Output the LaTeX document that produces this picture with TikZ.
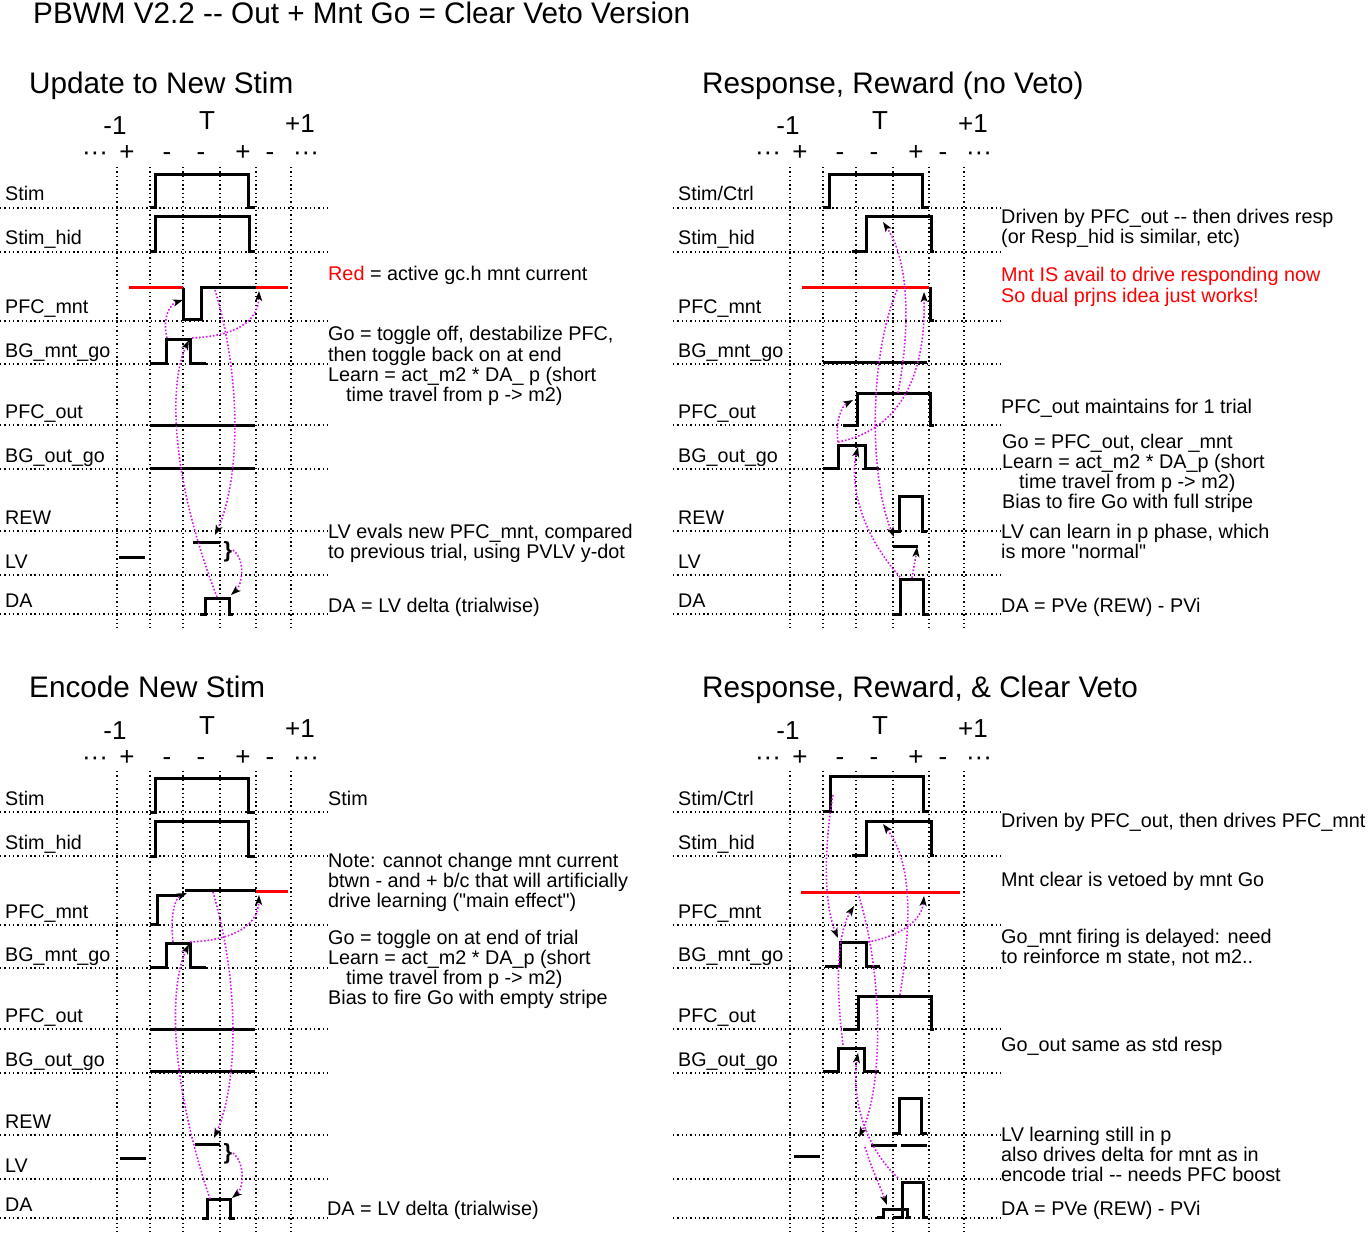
\documentclass[tikz,border=0pt]{standalone}
\usepackage{fontspec}
\setmainfont{Liberation Sans}[Ligatures=TeXOff]
\usetikzlibrary{arrows.meta}
\definecolor{mag}{RGB}{215,20,235}
\newcommand\myfs[1]{\fontsize{#1}{#1}\selectfont}
\tikzset{
  gridln/.style={line width=1.4pt, dash pattern=on 1.4pt off 2.9pt, black},
  sig/.style={line width=3pt, black, line join=miter},
  redsig/.style={line width=3pt, red},
  conn/.style={draw=mag, line width=1.6pt, dash pattern=on 1.6pt off 1.9pt, -{Stealth[length=10pt,width=7pt,inset=2.5pt,black]}},
  lab/.style={anchor=base west, inner sep=0, font=\myfs{19.7}},
  rt/.style={anchor=base west, inner sep=0, font=\myfs{19.8}},
  hdr/.style={anchor=base, inner sep=0, font=\myfs{26}},
  ttl/.style={anchor=base west, inner sep=0, font=\myfs{29.7}},
  brc/.style={inner sep=0, font=\bfseries\myfs{22}}
}
\newcommand\panelgrid[2]{%
  \foreach \yy in {208,252,321,364,425,469,531,575,614}{\draw[gridln] (0,\yy) -- (327,\yy);}
  \foreach \xx in {117,150,183,220,256,291}{\draw[gridln] (\xx,167) -- (\xx,628);}
  \node[hdr] (#1-hm) at (115,135) {-1};
  \node[hdr] (#1-ht) at (207,130) {T};
  \node[hdr] (#1-hp) at (300,133) {+1};
  \node[hdr] (#1-d1) at (95,161) {···};
  \node[hdr] (#1-d2) at (127,161) {+};
  \node[hdr] (#1-d3) at (167,161) {-};
  \node[hdr] (#1-d4) at (201,161) {-};
  \node[hdr] (#1-d5) at (243,161) {+};
  \node[hdr] (#1-d6) at (270,161) {-};
  \node[hdr] (#1-d7) at (306,161) {···};
  \node[lab] (#1-l1) at (5,201) {#2};
  \node[lab] (#1-l2) at (5,245) {Stim\_hid};
  \node[lab] (#1-l3) at (5,314) {PFC\_mnt};
  \node[lab] (#1-l4) at (5,357) {BG\_mnt\_go};
  \node[lab] (#1-l5) at (5,418) {PFC\_out};
  \node[lab] (#1-l6) at (5,462) {BG\_out\_go};
}
\newcommand\lowlabels[1]{%
  \node[lab] (#1-l7) at (5,524) {REW};
  \node[lab] (#1-l8) at (5,568) {LV};
  \node[lab] (#1-l9) at (5,607) {DA};
}
\begin{document}
\begin{tikzpicture}[x=1pt,y=-1pt]
\fill[white] (0,0) rectangle (1368,1233);
\path[use as bounding box] (0,0) rectangle (1368,1233);

% titles
\node[ttl] (title) at (33,24) {PBWM V2.2 -{}- Out + Mnt Go = Clear Veto Version};
\node[ttl] (t1) at (29,94) {Update to New Stim};
\node[ttl] (t2) at (702,94) {Response, Reward (no Veto)};
\node[ttl] (t3) at (29,697) {Encode New Stim};
\node[ttl] (t4) at (702,697) {Response, Reward, \& Clear Veto};

% grids
\begin{scope}\panelgrid{pa}{Stim}\lowlabels{pa}\end{scope}
\begin{scope}[shift={(673,0)}]\panelgrid{pb}{Stim/Ctrl}\lowlabels{pb}\end{scope}
\begin{scope}[shift={(0,604)}]\panelgrid{pc}{Stim}\lowlabels{pc}\end{scope}
\begin{scope}[shift={(673,604)}]\panelgrid{pd}{Stim/Ctrl}\end{scope}

% ---------- Panel 1 signals
\draw[sig] (150,208) -- (155,208) -- (155,175) -- (248,175) -- (248,208) -- (255,208);
\draw[sig] (150,252) -- (155,252) -- (155,217) -- (249,217) -- (249,252) -- (255,252);
\draw[redsig] (129,288) -- (183,288);
\draw[sig] (183,288) -- (183,320) -- (201,320) -- (201,288) -- (256,288);
\draw[redsig] (256,288) -- (288,288);
\draw[sig] (150,363) -- (166,363) -- (166,339) -- (190,339) -- (190,363) -- (206,363);
\draw[sig] (150,425) -- (255,425);
\draw[sig] (150,468) -- (255,468);
\draw[sig] (119,557) -- (145,557);
\draw[sig] (193,542) -- (220,542);
\node[brc] (pa-br) at (228,552) {\}};
\draw[sig] (200,614) -- (205,614) -- (205,598) -- (229,598) -- (229,614) -- (233,614);

\coordinate (a1s) at (167,338); \coordinate (a1e) at (183,300);
\coordinate (a2s) at (192,338); \coordinate (a2e) at (259,291);
\coordinate (a3s) at (217,597); \coordinate (a3e) at (189,340);
\coordinate (a4s) at (215,290); \coordinate (a4e) at (215,535);
\coordinate (a5s) at (233,550); \coordinate (a5e) at (231,595);
\draw[conn] (a1s) .. controls (162,318) and (170,304) .. (a1e);
\draw[conn] (a2s) .. controls (235,336) and (258,322) .. (a2e);
\draw[conn] (a3s) .. controls (168,470) and (170,380) .. (a3e);
\draw[conn] (a4s) .. controls (242,380) and (240,480) .. (a4e);
\draw[conn] (a5s) .. controls (246,560) and (242,585) .. (a5e);

\node[rt] (ra1) at (328,281) {{\color{red}Red} = active gc.h mnt current};
\node[rt] (ra2) at (328,341) {Go = toggle off, destabilize PFC,};
\node[rt] (ra3) at (328,361) {then toggle back on at end};
\node[rt] (ra4) at (328,381) {Learn = act\_m2 * DA\_ p (short};
\node[rt] (ra5) at (346,401) {time travel from p -> m2)};
\node[rt] (ra6) at (328,538) {LV evals new PFC\_mnt, compared};
\node[rt] (ra7) at (328,558) {to previous trial, using PVLV y-dot};
\node[rt] (ra8) at (328,612) {DA = LV delta (trialwise)};

% ---------- Panel 2 signals
\draw[sig] (823,208) -- (829,208) -- (829,175) -- (922,175) -- (922,208) -- (929,208);
\draw[sig] (852,252) -- (866,252) -- (866,217) -- (931,217) -- (931,252) -- (934,252);
\draw[redsig] (802,288) -- (929,288);
\draw[sig] (930,287) -- (930,321) -- (934,321);
\draw[sig] (823,362) -- (927,362);
\draw[sig] (843,425) -- (857,425) -- (857,393) -- (930,393) -- (930,425) -- (934,425);
\draw[sig] (823,468) -- (838,468) -- (838,445) -- (865,445) -- (865,468) -- (879,468);
\draw[sig] (893,531) -- (899,531) -- (899,496) -- (922,496) -- (922,531) -- (927,531);
\draw[sig] (893,546) -- (918,546);
\draw[sig] (893,614) -- (900,614) -- (900,579) -- (923,579) -- (923,614) -- (929,614);

\coordinate (d1s) at (838,442); \coordinate (d1e) at (853,400);
\coordinate (d2s) at (838,442); \coordinate (d2e) at (924,292);
\coordinate (d3s) at (898,393); \coordinate (d3e) at (883,222);
\coordinate (d4s) at (897,290); \coordinate (d4e) at (894,537);
\coordinate (d5s) at (900,577); \coordinate (d5e) at (858,447);
\coordinate (d6s) at (912,578); \coordinate (d6e) at (917,547);
\draw[conn] (d1s) .. controls (835,420) and (842,406) .. (d1e);
\draw[conn] (d2s) .. controls (890,432) and (926,390) .. (d2e);
\draw[conn] (d3s) .. controls (910,330) and (910,262) .. (d3e);
\draw[conn] (d4s) .. controls (868,360) and (870,480) .. (d4e);
\draw[conn] (d5s) .. controls (858,530) and (850,480) .. (d5e);
\draw[conn] (d6s) .. controls (914,565) and (916,556) .. (d6e);

\node[rt] (rb1) at (1001,224) {Driven by PFC\_out -{}- then drives resp};
\node[rt] (rb2) at (1001,244) {(or Resp\_hid is similar, etc)};
\node[rt,text=red] (rb3) at (1001,282) {Mnt IS avail to drive responding now};
\node[rt,text=red] (rb4) at (1001,302) {So dual prjns idea just works!};
\node[rt] (rb5) at (1001,413) {PFC\_out maintains for 1 trial};
\node[rt] (rb6) at (1002,448) {Go = PFC\_out, clear \_mnt};
\node[rt] (rb7) at (1002,468) {Learn = act\_m2 * DA\_p (short};
\node[rt] (rb8) at (1019,488) {time travel from p -> m2)};
\node[rt] (rb9) at (1002,508) {Bias to fire Go with full stripe};
\node[rt] (rb10) at (1001,538) {LV can learn in p phase, which};
\node[rt] (rb11) at (1001,558) {is more "normal"};
\node[rt] (rb12) at (1001,612) {DA = PVe (REW) - PVi};

% ---------- Panel 3 signals
\draw[sig] (150,812) -- (155,812) -- (155,778) -- (248,778) -- (248,812) -- (255,812);
\draw[sig] (150,856) -- (155,856) -- (155,821) -- (248,821) -- (248,856) -- (255,856);
\draw[sig] (150,924) -- (157,924) -- (157,895) -- (183,895);
\draw[sig] (185,890) -- (256,890);
\draw[redsig] (256,891) -- (288,891);
\draw[sig] (150,967) -- (166,967) -- (166,943) -- (190,943) -- (190,967) -- (206,967);
\draw[sig] (150,1029) -- (255,1029);
\draw[sig] (150,1071) -- (255,1071);
\draw[sig] (120,1158) -- (146,1158);
\draw[sig] (195,1144) -- (220,1144);
\node[brc] (pc-br) at (228,1154) {\}};
\draw[sig] (202,1218) -- (207,1218) -- (207,1199) -- (230,1199) -- (230,1218) -- (235,1218);

\coordinate (b1s) at (173,942); \coordinate (b1e) at (187,893);
\coordinate (b2s) at (190,942); \coordinate (b2e) at (259,895);
\coordinate (b3s) at (210,1199); \coordinate (b3e) at (189,944);
\coordinate (b4s) at (213,892); \coordinate (b4e) at (214,1138);
\coordinate (b5s) at (233,1153); \coordinate (b5e) at (232,1198);
\draw[conn] (b1s) .. controls (170,915) and (175,898) .. (b1e);
\draw[conn] (b2s) .. controls (235,940) and (258,925) .. (b2e);
\draw[conn] (b3s) .. controls (168,1074) and (170,984) .. (b3e);
\draw[conn] (b4s) .. controls (240,984) and (238,1084) .. (b4e);
\draw[conn] (b5s) .. controls (246,1164) and (243,1189) .. (b5e);

\node[rt] (rc1) at (328,805) {Stim};
\node[rt] (rc2) at (328,867) {Note: cannot change mnt current};
\node[rt] (rc3) at (328,887) {btwn - and + b/c that will artificially};
\node[rt] (rc4) at (328,907) {drive learning ("main effect")};
\node[rt] (rc5) at (328,944) {Go = toggle on at end of trial};
\node[rt] (rc6) at (328,964) {Learn = act\_m2 * DA\_p (short};
\node[rt] (rc7) at (346,984) {time travel from p -> m2)};
\node[rt] (rc8) at (328,1004) {Bias to fire Go with empty stripe};
\node[rt] (rc9) at (327,1215) {DA = LV delta (trialwise)};

% ---------- Panel 4 signals
\draw[sig] (823,811) -- (830,811) -- (830,776) -- (923,776) -- (923,811) -- (929,811);
\draw[sig] (852,855) -- (866,855) -- (866,821) -- (931,821) -- (931,855) -- (934,855);
\draw[redsig] (801,892) -- (960,892);
\draw[sig] (825,966) -- (840,966) -- (840,942) -- (866,942) -- (866,966) -- (880,966);
\draw[sig] (843,1029) -- (858,1029) -- (858,996) -- (931,996) -- (931,1029) -- (934,1029);
\draw[sig] (823,1071) -- (838,1071) -- (838,1048) -- (864,1048) -- (864,1071) -- (879,1071);
\draw[sig] (893,1133) -- (899,1133) -- (899,1098) -- (921,1098) -- (921,1133) -- (927,1133);
\draw[sig] (794,1156) -- (820,1156);
\draw[sig] (871,1145) -- (897,1145);
\draw[sig] (901,1145) -- (927,1145);
\draw[sig] (877,1217) -- (883,1217) -- (883,1209) -- (907,1209) -- (907,1217) -- (911,1217);
\draw[sig] (893,1217) -- (902,1217) -- (902,1182) -- (923,1182) -- (923,1217) -- (928,1217);

\coordinate (e1s) at (833,795); \coordinate (e1e) at (838,938);
\coordinate (e2s) at (843,1045); \coordinate (e2e) at (854,906);
\coordinate (e3s) at (868,942); \coordinate (e3e) at (924,896);
\coordinate (e4s) at (900,995); \coordinate (e4e) at (883,824);
\coordinate (e5s) at (858,893); \coordinate (e5e) at (859,1137);
\coordinate (e6s) at (898,1178); \coordinate (e6e) at (858,1053);
\coordinate (e7s) at (865,1147); \coordinate (e7e) at (887,1205);
\draw[conn] (e1s) .. controls (822,860) and (826,910) .. (e1e);
\draw[conn] (e2s) .. controls (836,990) and (836,935) .. (e2e);
\draw[conn] (e3s) .. controls (905,935) and (922,918) .. (e3e);
\draw[conn] (e4s) .. controls (912,920) and (912,862) .. (e4e);
\draw[conn] (e5s) .. controls (885,980) and (882,1090) .. (e5e);
\draw[conn] (e6s) .. controls (860,1142) and (852,1090) .. (e6e);
\draw[conn] (e7s) .. controls (872,1170) and (880,1186) .. (e7e);

\node[rt] (rd1) at (1001,827) {Driven by PFC\_out, then drives PFC\_mnt};
\node[rt] (rd2) at (1001,886) {Mnt clear is vetoed by mnt Go};
\node[rt] (rd3) at (1001,943) {Go\_mnt firing is delayed: need};
\node[rt] (rd4) at (1001,963) {to reinforce m state, not m2..};
\node[rt] (rd5) at (1001,1051) {Go\_out same as std resp};
\node[rt] (rd6) at (1001,1141) {LV learning still in p};
\node[rt] (rd7) at (1001,1161) {also drives delta for mnt as in};
\node[rt] (rd8) at (1001,1181) {encode trial -{}- needs PFC boost};
\node[rt] (rd9) at (1001,1215) {DA = PVe (REW) - PVi};
\end{tikzpicture}
\end{document}
